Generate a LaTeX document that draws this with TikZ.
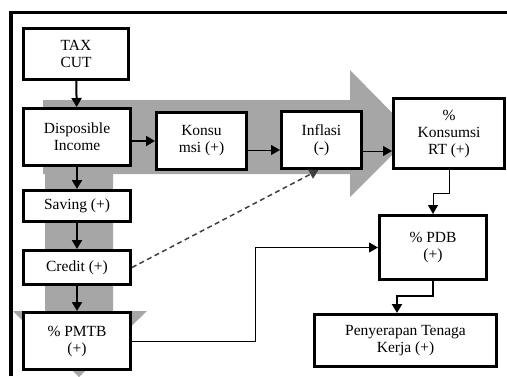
\documentclass[tikz,border=0pt]{standalone}
\usepackage{fontspec}
\setmainfont{Liberation Serif}
\usetikzlibrary{arrows.meta}
\tikzset{
  box/.style={draw, fill=white, line width=3pt, align=center, inner sep=1pt,
    font=\fontsize{15.5}{17}\selectfont},
  flow/.style={fill=black!35}
}
\begin{document}
\begin{tikzpicture}[x=1pt, y=-1pt, >={Triangle[length=9pt,width=10pt]}]
  \useasboundingbox (0,0) rectangle (507,376);
  % frame
  \draw[line width=3.5pt] (11,376) -- (11,12.5) -- (507,12.5);

  % grey flow arrows
  \fill[flow] (43,100) -- (350,100) -- (350,70) -- (413,134) -- (350,197)
    -- (350,174) -- (113,174) -- (113,311) -- (147,311) -- (79,377)
    -- (13,311) -- (45,311) -- (45,174) -- (43,174) -- cycle;

  % boxes
  \node[box, minimum width=105, minimum height=51] (tax)    at (76,54)    {TAX\\CUT};
  \node[box, minimum width=107, minimum height=57] (disp)   at (77,137)   {Disposible\\Income};
  \node[box, minimum width=90,  minimum height=57] (konsu)  at (201.5,141) {Konsu\\msi (+)};
  \node[box, minimum width=80,  minimum height=57] (infl)   at (321.5,140) {Inflasi\\(-)};
  \node[box, minimum width=111, minimum height=70] (kons)   at (449,133.5) {\%\\Konsumsi\\RT (+)};
  \node[box, minimum width=107, minimum height=31] (saving) at (77,206)   {Saving (+)};
  \node[box, minimum width=107, minimum height=34] (credit) at (77,267.5) {Credit (+)};
  \node[box, minimum width=107, minimum height=57] (pmtb)   at (77,341)   {\% PMTB\\(+)};
  \node[box, minimum width=107, minimum height=64] (pdb)    at (433,247.5) {\% PDB\\(+)};
  \node[box, minimum width=182, minimum height=52] (peny)   at (405.5,340.5) {Penyerapan Tenaga\\Kerja (+)};

  % connectors
  \draw[->, line width=2pt] (tax) -- (disp);
  \draw[->, line width=2pt] (disp.east |- konsu.west) -- (konsu.west);
  \coordinate (k1) at ([yshift=-9]konsu.east);
  \draw[->, line width=1pt] (k1) -- (k1 -| infl.west);
  \coordinate (i1) at ([yshift=-11]infl.east);
  \draw[->, line width=1pt] (i1) -- (i1 -| kons.west);
  \draw[->, line width=2pt] (disp) -- (saving);
  \draw[->, line width=2pt] (saving) -- (credit);
  \draw[->, line width=2pt] (credit) -- (pmtb);
  \draw[->, line width=1.5pt, dash pattern=on 5pt off 3.5pt, black!75]
    (credit.east) -- ([xshift=-3]infl.south);
  \draw[->, line width=1pt] (kons.south) -- ++(0,23) -| (pdb.north);
  \draw[->, line width=1pt] (pmtb.east) -- ++(123,0) |- (pdb.west);
  \draw[->, line width=2.5pt] (pdb.south) -- ++(0,15) -| ([xshift=-8.5]peny.north);
\end{tikzpicture}
\end{document}
